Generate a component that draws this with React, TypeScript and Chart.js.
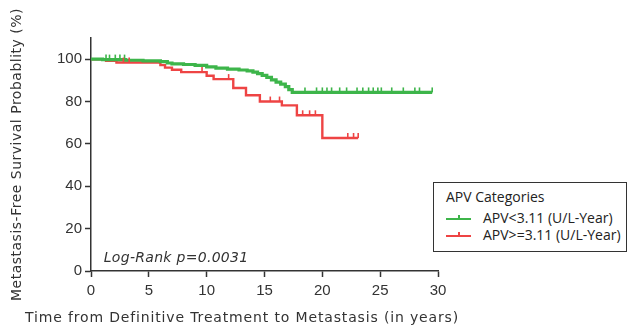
import React, { useEffect, useRef } from "react";
import { Chart, registerables } from "chart.js";

Chart.register(...registerables);

// Kaplan-Meier step data (time in years, survival %)
const lowTimes = [0, 1.0, 3.0, 4.5, 6.0, 6.6, 7.0, 8.0, 9.0, 10.0, 10.8, 11.8, 12.8, 13.5, 14.0, 14.4, 14.8, 15.2, 15.6, 16.0, 16.4, 16.8, 17.1, 17.4, 29.5];
const lowSurv = [100, 99.8, 99.5, 99.2, 98.8, 98.2, 97.8, 97.5, 97.1, 96.4, 95.8, 95.3, 94.9, 94.5, 93.9, 93.2, 92.4, 91.4, 90.2, 89.2, 88.2, 87.0, 85.6, 84.3, 84.3];
const highTimes = [0, 1.3, 2.2, 6.0, 6.4, 7.0, 7.8, 10.0, 10.6, 12.3, 13.4, 14.6, 16.5, 17.8, 20.0, 23.1];
const highSurv = [100, 99.2, 98.4, 97.2, 96.0, 95.0, 93.9, 92.2, 90.6, 86.4, 83.0, 80.0, 78.2, 73.5, 62.8, 62.8];

// Censoring times
const lowCensor = [1.3, 1.6, 2.1, 2.5, 2.9, 18.5, 19.5, 20.0, 20.4, 20.8, 21.5, 22.1, 23.0, 23.5, 24.0, 24.4, 24.8, 25.1, 26.0, 27.0, 28.0, 28.4, 29.5];
const highCensor = [2.8, 3.3, 9.6, 11.9, 15.5, 16.3, 18.3, 18.9, 19.4, 22.2, 22.7, 23.1];

const seriesLabels = ["APV<3.11 (U/L-Year)", "APV>=3.11 (U/L-Year)"];
const legendTitle = "APV Categories";
const xTicks = [0, 5, 10, 15, 20, 25, 30];
const yTicks = [0, 20, 40, 60, 80, 100];
const xTitle = "Time from Definitive Treatment to Metastasis (in years)";
const yTitle = "Metastasis-Free Survival Probablity (%)";
const annotation = "Log-Rank p=0.0031";

const GREEN = "#3db54a";
const RED = "#ee4444";

function survAt(times: number[], surv: number[], t: number) {
  let v = surv[0];
  for (let i = 0; i < times.length; i++) {
    if (times[i] <= t) v = surv[i];
  }
  return v;
}

const overlayPlugin = {
  id: "overlay",
  afterDatasetsDraw(chart: any) {
    const xs = chart.scales.x;
    const ys = chart.scales.y;
    const ctx = chart.ctx;
    const groups = [
      { times: lowTimes, surv: lowSurv, cens: lowCensor, color: GREEN },
      { times: highTimes, surv: highSurv, cens: highCensor, color: RED },
    ];
    ctx.save();
    groups.forEach((g) => {
      ctx.strokeStyle = g.color;
      ctx.lineWidth = 1.6;
      g.cens.forEach((t) => {
        const px = xs.getPixelForValue(t);
        const py = ys.getPixelForValue(survAt(g.times, g.surv, t));
        ctx.beginPath();
        ctx.moveTo(px, py);
        ctx.lineTo(px, py - 5);
        ctx.stroke();
      });
    });
    ctx.fillStyle = "#333";
    ctx.font = 'italic 14px "DejaVu Sans"';
    ctx.textBaseline = "middle";
    ctx.textAlign = "left";
    (ctx as any).letterSpacing = "0.3px";
    ctx.fillText(annotation, xs.getPixelForValue(1.1), ys.getPixelForValue(6.2));
    ctx.restore();
  },
  afterDraw(chart: any) {
    const ctx = chart.ctx;
    const ca = chart.chartArea;
    ctx.save();
    ctx.fillStyle = "#333";
    ctx.font = '14px "DejaVu Sans"';
    ctx.textBaseline = "middle";
    ctx.textAlign = "center";
    (ctx as any).letterSpacing = "0.85px";
    ctx.fillText(xTitle, 242, 318);
    (ctx as any).letterSpacing = "0.5px";
    ctx.translate(17, (ca.top + ca.bottom) / 2);
    ctx.rotate(-Math.PI / 2);
    ctx.fillText(yTitle, 0, 0);
    ctx.restore();
  },
};

export default function App() {
  const ref = useRef<HTMLCanvasElement>(null);
  useEffect(() => {
    if (!ref.current) return;
    const chart = new Chart(ref.current, {
      type: "line",
      data: {
        datasets: [
          {
            label: seriesLabels[0],
            data: lowTimes.map((t, i) => ({ x: t, y: lowSurv[i] })),
            borderColor: GREEN,
            borderWidth: 3.2,
            stepped: "before",
            pointRadius: 0,
            fill: false,
          },
          {
            label: seriesLabels[1],
            data: highTimes.map((t, i) => ({ x: t, y: highSurv[i] })),
            borderColor: RED,
            borderWidth: 2.4,
            stepped: "before",
            pointRadius: 0,
            fill: false,
          },
        ],
      },
      options: {
        responsive: false,
        animation: false,
        layout: { padding: { top: 38, right: 197, left: 0, bottom: 0 } },
        plugins: { legend: { display: false }, tooltip: { enabled: false } },
        scales: {
          x: {
            type: "linear",
            min: 0,
            max: 30,
            afterBuildTicks: (s: any) => {
              s.ticks = xTicks.map((v) => ({ value: v }));
            },
            afterFit: (s: any) => {
              s.height = 59;
            },
            grid: { drawOnChartArea: false, drawTicks: true, tickLength: 6, color: "#333", tickWidth: 1.5 },
            border: { color: "#333", width: 1.5 },
            ticks: { color: "#333", font: { family: "Liberation Sans", size: 15 }, padding: 5, maxRotation: 0 },
            title: { display: false },
          },
          y: {
            type: "linear",
            min: 0,
            max: 110,
            afterBuildTicks: (s: any) => {
              s.ticks = yTicks.map((v) => ({ value: v }));
            },
            afterFit: (s: any) => {
              s.width = 91;
            },
            grid: { drawOnChartArea: false, drawTicks: true, tickLength: 6, color: "#333", tickWidth: 1.5 },
            border: { color: "#333", width: 1.5 },
            ticks: { color: "#333", font: { family: "Liberation Sans", size: 15 }, padding: 3 },
            title: { display: false },
          },
        },
      },
      plugins: [overlayPlugin],
    });
    return () => chart.destroy();
  }, []);

  const swatch = (color: string) => (
    <span style={{ position: "relative", display: "inline-block", width: 25, height: 12, marginRight: 12, flex: "none" }}>
      <span style={{ position: "absolute", left: 0, top: 6, width: 25, height: 2, background: color }} />
      <span style={{ position: "absolute", left: 11.5, top: 3, width: 2, height: 4, background: color }} />
    </span>
  );

  return (
    <div style={{ position: "absolute", left: 0, top: 0, width: 635, height: 330, background: "#fff" }}>
      <canvas ref={ref} width={635} height={330} style={{ display: "block" }} />
      <div
        style={{
          position: "absolute",
          left: 433,
          top: 182,
          width: 194,
          height: 70,
          border: "1.5px solid #333",
          background: "#fff",
          fontFamily: '"Open Sans", sans-serif',
          fontSize: 14,
          color: "#222",
          boxSizing: "border-box",
          padding: "5px 0 0 12px",
          lineHeight: "17px",
          whiteSpace: "nowrap",
        }}
      >
        <div style={{ fontSize: 14, marginBottom: 4 }}>{legendTitle}</div>
        <div style={{ display: "flex", alignItems: "center" }}>
          {swatch(GREEN)}
          <span>{seriesLabels[0]}</span>
        </div>
        <div style={{ display: "flex", alignItems: "center" }}>
          {swatch(RED)}
          <span>{seriesLabels[1]}</span>
        </div>
      </div>
    </div>
  );
}
